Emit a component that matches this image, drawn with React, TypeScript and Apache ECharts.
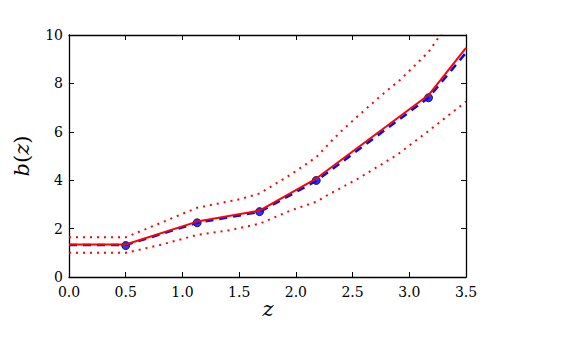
import React, { useEffect, useRef } from "react";
import * as echarts from "echarts";

const dotX = [0.5, 1.13, 1.68, 2.18, 3.17];
const dotY = [1.3, 2.24, 2.7, 3.99, 7.41];

const solidX = [0, 0.5, 1.13, 1.68, 2.18, 3.17, 3.5];
const solidY = [1.34, 1.34, 2.29, 2.74, 4.07, 7.52, 9.47];

const dashedX = [0, 0.5, 1.13, 1.68, 2.18, 3.17, 3.5];
const dashedY = [1.32, 1.32, 2.24, 2.69, 3.97, 7.41, 9.27];

const upperX = [0, 0.5, 0.8, 1.13, 1.51, 1.68, 1.95, 2.18, 2.3, 2.39, 2.54, 2.74, 2.92, 3.04, 3.17, 3.28, 3.5];
const upperY = [1.64, 1.64, 2.22, 2.86, 3.22, 3.45, 4.22, 4.95, 5.55, 5.98, 6.62, 7.45, 8.15, 8.7, 9.3, 10.05, 11.6];

const lowerX = [0, 0.5, 0.8, 1.13, 1.42, 1.68, 1.95, 2.18, 2.3, 2.54, 2.89, 3.18, 3.5];
const lowerY = [1.0, 1.0, 1.32, 1.74, 1.94, 2.2, 2.74, 3.11, 3.44, 4.04, 5.04, 6.07, 7.25];

const xTicks = [0, 0.5, 1, 1.5, 2, 2.5, 3, 3.5];
const yTicks = [0, 2, 4, 6, 8, 10];

const zip = (xs: number[], ys: number[]) => xs.map((x, i) => [x, ys[i]]);

export default function App() {
  const ref = useRef<HTMLDivElement>(null);
  useEffect(() => {
    document.body.style.margin = "0";
    if (!ref.current) return;
    const chart = echarts.init(ref.current, null, { renderer: "svg" });
    const font = "DejaVu Serif";
    const tickCommon = {
      axisLine: { show: true, onZero: false, lineStyle: { color: "#000", width: 1.3 } },
      axisTick: { show: true, inside: true, length: 5, lineStyle: { color: "#000", width: 1 } },
      splitLine: { show: false },
    };
    chart.setOption({
      animation: false,
      backgroundColor: "#fff",
      grid: { left: 69, right: 102, top: 35, bottom: 76 },
      xAxis: [
        {
          type: "value",
          min: xTicks[0],
          max: xTicks[xTicks.length - 1],
          interval: 0.5,
          position: "bottom",
          ...tickCommon,
          axisLabel: {
            color: "#000",
            fontFamily: font,
            fontSize: 14,
            margin: 8,
            formatter: (v: number) => v.toFixed(1),
          },
        },
        {
          type: "value",
          min: xTicks[0],
          max: xTicks[xTicks.length - 1],
          interval: 0.5,
          position: "top",
          ...tickCommon,
          axisLabel: { show: false },
        },
      ],
      yAxis: [
        {
          type: "value",
          min: yTicks[0],
          max: yTicks[yTicks.length - 1],
          interval: 2,
          position: "left",
          ...tickCommon,
          axisLabel: { color: "#000", fontFamily: font, fontSize: 14, margin: 6 },
        },
        {
          type: "value",
          min: yTicks[0],
          max: yTicks[yTicks.length - 1],
          interval: 2,
          position: "right",
          ...tickCommon,
          axisLabel: { show: false },
        },
      ],
      graphic: [
        {
          type: "text",
          x: 22,
          y: 156,
          rotation: Math.PI / 2,
          style: {
            text: "{i|b}(​{i|z})",
            font: `21px "${font}"`,
            fill: "#000",
            align: "center",
            verticalAlign: "middle",
            rich: {
              i: { fontFamily: font, fontStyle: "italic", fontSize: 21, fill: "#000" },
            },
          },
        },
        {
          type: "text",
          x: 268,
          y: 309,
          style: {
            text: "z",
            font: `italic 21px "${font}"`,
            fill: "#000",
            align: "center",
            verticalAlign: "middle",
          },
        },
      ],
      series: [
        {
          type: "scatter",
          data: zip(dotX, dotY),
          symbol: "circle",
          symbolSize: 8,
          itemStyle: { color: "#0000ff", borderColor: "#000", borderWidth: 1 },
          z: 2,
        },
        {
          type: "line",
          data: zip(dashedX, dashedY),
          symbol: "none",
          lineStyle: { color: "#0000ff", width: 2.5, type: [8, 6] },
          z: 3,
        },
        {
          type: "line",
          data: zip(solidX, solidY),
          symbol: "none",
          lineStyle: { color: "#ff0000", width: 2 },
          z: 4,
        },
        {
          type: "line",
          data: zip(upperX, upperY),
          symbol: "none",
          clip: true,
          lineStyle: { color: "#ff0000", width: 2, type: [2, 5] },
          z: 4,
        },
        {
          type: "line",
          data: zip(lowerX, lowerY),
          symbol: "none",
          clip: true,
          lineStyle: { color: "#ff0000", width: 2, type: [2, 5] },
          z: 4,
        },
      ],
    });
    return () => chart.dispose();
  }, []);
  return <div ref={ref} style={{ width: 568, height: 353 }} />;
}
